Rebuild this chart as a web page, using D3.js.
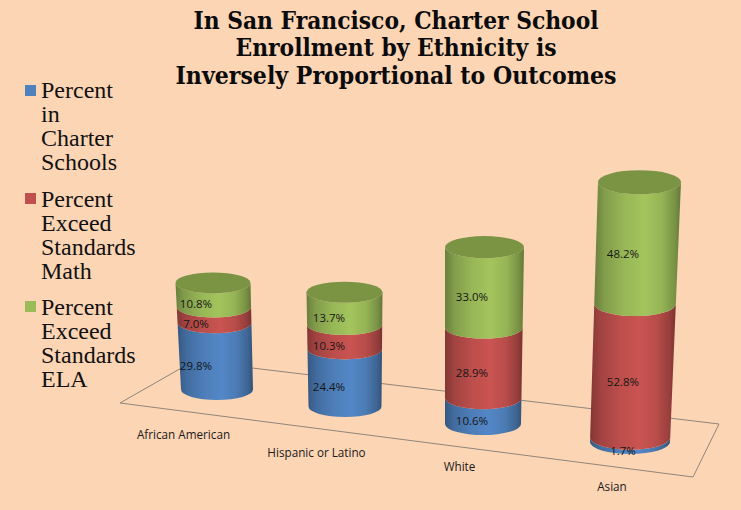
<!DOCTYPE html>
<html><head><meta charset="utf-8">
<script src="https://cdn.jsdelivr.net/npm/d3@7/dist/d3.min.js"></script>
<style>html,body{margin:0;padding:0;background:#FCD5B5;overflow:hidden}svg{display:block}</style>
</head><body><svg id="c" width="741" height="510"></svg>
<script>
const categories = ["African American","Hispanic or Latino","White","Asian"];
const charter = [29.8,24.4,10.6,1.7];
const math = [7.0,10.3,28.9,52.8];
const ela = [10.8,13.7,33.0,48.2];
const seriesNames = [["Percent","in","Charter","Schools"],["Percent","Exceed","Standards","Math"],["Percent","Exceed","Standards","ELA"]];
const titleLines = ["In San Francisco, Charter School","Enrollment by Ethnicity is","Inversely Proportional to Outcomes"];
const colors = ["#4F81BD","#C0504D","#9BBB59"];

const W=741,H=510, idx=[0,1,2,3];
// perspective of the pseudo-3D plot: one scale per projected quantity, by category depth
const yBase = d3.scaleLinear(idx,[400,417,435,454]);    // front-most y of cylinder base
const perPct = d3.scaleLinear(idx,[2.24,2.36,2.44,2.53]); // px per percentage point
const cxBase = d3.scaleLinear(idx,[217,345,483,630]);
const cxTop = d3.scaleLinear(idx,[213,344.5,484.5,639.5]);
const rxBase = d3.scaleLinear(idx,[36,36.5,38,40]);
const rxTop = d3.scaleLinear(idx,[37.5,38,39.5,41.5]);
const ry = d3.scaleLinear(idx,[10.5,10.5,11,12]);
const labelX = d3.scaleLinear(idx,[196,329,472,623]);
const catX = d3.scaleLinear(idx,[183.5,316.5,459.5,612]);
const catY = d3.scaleLinear(idx,[439,457,471,491]);

const svg=d3.select("#c");
svg.append("rect").attr("width",W).attr("height",H).attr("fill","#FCD5B5");
const defs=svg.append("defs");
colors.forEach((c,i)=>{
  const g=defs.append("linearGradient").attr("id","g"+i).attr("x1",0).attr("x2",1).attr("y1",0).attr("y2",0);
  const base=d3.color(c);
  [[0,.68],[.12,.84],[.35,.98],[.58,1.05],[.78,.96],[.93,.78],[1,.64]].forEach(([o,k])=>{
    const r=d3.rgb(Math.min(255,base.r*k),Math.min(255,base.g*k),Math.min(255,base.b*k));
    g.append("stop").attr("offset",o).attr("stop-color",r.formatHex());
  });
});

// floor
svg.append("path").attr("d",d3.line()([[120,403],[193.6,361],[719,424],[693,477]])+"Z")
  .attr("fill","none").attr("stroke","#8f867b").attr("stroke-width",1);

// cylinders
const stacks=idx.map(i=>d3.stack().keys([0,1,2]).value((d,k)=>d[k])([[charter[i],math[i],ela[i]]]).map(s=>s[0]));
const total=i=>charter[i]+math[i]+ela[i];
idx.forEach(i=>{
  const y0=yBase(i), k=perPct(i), r=ry(i), T=total(i);
  const frac=v=>v/T;
  const cx=v=>cxBase(i)+(cxTop(i)-cxBase(i))*frac(v);
  const rx=v=>rxBase(i)+(rxTop(i)-rxBase(i))*frac(v);
  const fy=v=>y0-v*k;   // y of the front of the rim at stacked value v
  const g=svg.append("g");
  stacks[i].forEach((s,j)=>{
    const [a,b]=s;
    const xa=cx(a),xb=cx(b),ra=rx(a),rb=rx(b),ya=fy(a)-r,yb=fy(b)-r;
    const d=`M${xb-rb},${yb} L${xa-ra},${ya} A${ra},${r} 0 0 0 ${xa+ra},${ya} L${xb+rb},${yb} A${rb},${r} 0 0 1 ${xb-rb},${yb} Z`;
    g.append("path").attr("d",d).attr("fill",`url(#g${j})`);
  });
  g.append("ellipse").attr("cx",cx(T)).attr("cy",fy(T)-r).attr("rx",rx(T)).attr("ry",r).attr("fill","#7A9444");
  stacks[i].forEach(s=>{
    const v=s[1]-s[0];
    g.append("text").attr("x",labelX(i)).attr("y",(fy(s[0])+fy(s[1]))/2+3)
      .attr("text-anchor","middle").attr("font-family","'Open Sans',sans-serif").attr("font-size",11.5)
      .attr("fill","#161616").text(v.toFixed(1)+"%");
  });
  svg.append("text").attr("x",catX(i)).attr("y",catY(i)).attr("text-anchor","middle")
    .attr("font-family","'Open Sans',sans-serif").attr("font-size",11.7).attr("fill","#1a1a1a").text(categories[i]);
});

// title
const tw=[405,321,441], ty=[29,56,84];
titleLines.forEach((t,i)=>svg.append("text").attr("x",396).attr("y",ty[i]).attr("text-anchor","middle")
  .attr("font-family","'DejaVu Serif',serif").attr("font-weight","bold").attr("font-size",24).attr("fill","#0b0b0b")
  .attr("textLength",tw[i]).attr("lengthAdjust","spacingAndGlyphs").text(t));

// legend
const legTop=[98,207,315], swatchY=[85,193,301];
seriesNames.forEach((lines,i)=>{
  svg.append("rect").attr("x",25).attr("y",swatchY[i]).attr("width",11).attr("height",11).attr("fill",colors[i]);
  lines.forEach((l,j)=>svg.append("text").attr("x",41).attr("y",legTop[i]+j*24)
    .attr("font-family","'Liberation Serif',serif").attr("font-size",24).attr("fill","#111").text(l));
});
</script></body></html>
